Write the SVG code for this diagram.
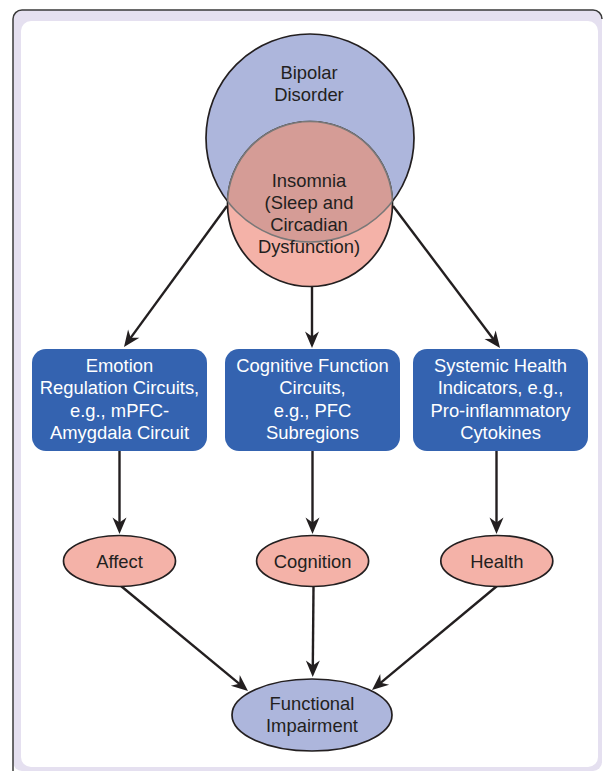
<svg xmlns="http://www.w3.org/2000/svg" width="603" height="772" viewBox="0 0 603 772">
  <defs>
    <style>
      .lbl { font-family: "Liberation Sans", Arial, sans-serif; font-size: 18.4px; fill: #231f20; text-anchor: middle; }
      .lbl-w { font-family: "Liberation Sans", Arial, sans-serif; font-size: 18.4px; fill: #ffffff; text-anchor: middle; }
      .box { fill: #3463b0; }
      .oval-pink { fill: #f4b2a8; stroke: #231f20; stroke-width: 1.7; }
      .oval-blue { fill: #adb6dc; stroke: #231f20; stroke-width: 1.7; }
      .edge { fill: none; stroke: #231f20; stroke-width: 2.4; marker-end: url(#arrow); }
    </style>
    <marker id="arrow" viewBox="-17 -8 18 16" refX="-10" refY="0" markerWidth="18" markerHeight="16" markerUnits="userSpaceOnUse" orient="auto">
      <path d="M0,0 L-16.5,-7 L-11.5,0 L-16.5,7 Z" fill="#231f20"/>
    </marker>
    <clipPath id="clip-bipolar">
      <circle cx="310" cy="138" r="104"/>
    </clipPath>
    <clipPath id="clip-insomnia">
      <circle cx="310" cy="204" r="82.5"/>
    </clipPath>
  </defs>

  <!-- panel frame -->
  <rect x="13" y="10" width="589" height="761" rx="9" fill="#e5e0f0"/>
  <path d="M13,771 V19 A9,9 0 0 1 22,10 H593 A9,9 0 0 1 602,19" fill="none" stroke="#3a3a3a" stroke-width="1.5"/>
  <rect x="21" y="21" width="577" height="746" rx="10" fill="#ffffff"/>

  <!-- Venn: bipolar disorder / insomnia -->
  <g id="venn">
    <circle cx="310" cy="138" r="104" class="oval-blue"/>
    <circle cx="310" cy="204" r="82.5" class="oval-pink"/>
    <circle cx="310" cy="204" r="82.5" fill="#d59c96" clip-path="url(#clip-bipolar)"/>
    <circle cx="310" cy="204" r="82.5" fill="none" stroke="#7a7878" stroke-width="1.6" clip-path="url(#clip-bipolar)"/>
    <circle cx="310" cy="138" r="104" fill="none" stroke="#7a7878" stroke-width="1.6" clip-path="url(#clip-insomnia)"/>
  </g>
  <g id="bipolar-label">
    <text class="lbl" x="309" y="79">Bipolar</text>
    <text class="lbl" x="309" y="101">Disorder</text>
  </g>
  <g id="insomnia-label">
    <text class="lbl" x="309" y="187">Insomnia</text>
    <text class="lbl" x="309" y="209">(Sleep and</text>
    <text class="lbl" x="309" y="231">Circadian</text>
    <text class="lbl" x="309" y="253">Dysfunction)</text>
  </g>

  <!-- connectors -->
  <g id="connectors">
    <path class="edge" d="M227,206 L129.9,338.9"/>
    <path class="edge" d="M312,287 L312,338"/>
    <path class="edge" d="M393,206 L494,340"/>
    <path class="edge" d="M119.5,451 L119.5,524"/>
    <path class="edge" d="M312.5,451 L312.5,524"/>
    <path class="edge" d="M496.5,451 L496.5,524"/>
    <path class="edge" d="M121,586 L240.3,684.6"/>
    <path class="edge" d="M313.5,587 L312.8,667"/>
    <path class="edge" d="M497,586 L379.7,683.6"/>
  </g>

  <!-- circuit boxes -->
  <g id="emotion-circuits">
    <rect class="box" x="32" y="349" width="175" height="102" rx="14"/>
    <text class="lbl-w" x="119.5" y="372">Emotion</text>
    <text class="lbl-w" x="119.5" y="394.3">Regulation Circuits,</text>
    <text class="lbl-w" x="119.5" y="416.6">e.g., mPFC-</text>
    <text class="lbl-w" x="119.5" y="439">Amygdala Circuit</text>
  </g>
  <g id="cognitive-circuits">
    <rect class="box" x="225" y="349" width="175" height="102" rx="14"/>
    <text class="lbl-w" x="312.5" y="372">Cognitive Function</text>
    <text class="lbl-w" x="312.5" y="394.3">Circuits,</text>
    <text class="lbl-w" x="312.5" y="416.6">e.g., PFC</text>
    <text class="lbl-w" x="312.5" y="439">Subregions</text>
  </g>
  <g id="systemic-health">
    <rect class="box" x="413" y="349" width="175" height="102" rx="14"/>
    <text class="lbl-w" x="500.5" y="372">Systemic Health</text>
    <text class="lbl-w" x="500.5" y="394.3">Indicators, e.g.,</text>
    <text class="lbl-w" x="500.5" y="416.6">Pro-inflammatory</text>
    <text class="lbl-w" x="500.5" y="439">Cytokines</text>
  </g>

  <!-- outcome ovals -->
  <g id="affect">
    <ellipse class="oval-pink" cx="119.5" cy="561" rx="56" ry="25.5"/>
    <text class="lbl" x="119.5" y="567.5">Affect</text>
  </g>
  <g id="cognition">
    <ellipse class="oval-pink" cx="312.6" cy="561" rx="56" ry="25.5"/>
    <text class="lbl" x="312.6" y="567.5">Cognition</text>
  </g>
  <g id="health">
    <ellipse class="oval-pink" cx="496.8" cy="561" rx="56" ry="25.5"/>
    <text class="lbl" x="496.8" y="567.5">Health</text>
  </g>
  <g id="functional-impairment">
    <ellipse class="oval-blue" cx="312" cy="715" rx="80" ry="36"/>
    <text class="lbl" x="312" y="710">Functional</text>
    <text class="lbl" x="312" y="732">Impairment</text>
  </g>
</svg>
